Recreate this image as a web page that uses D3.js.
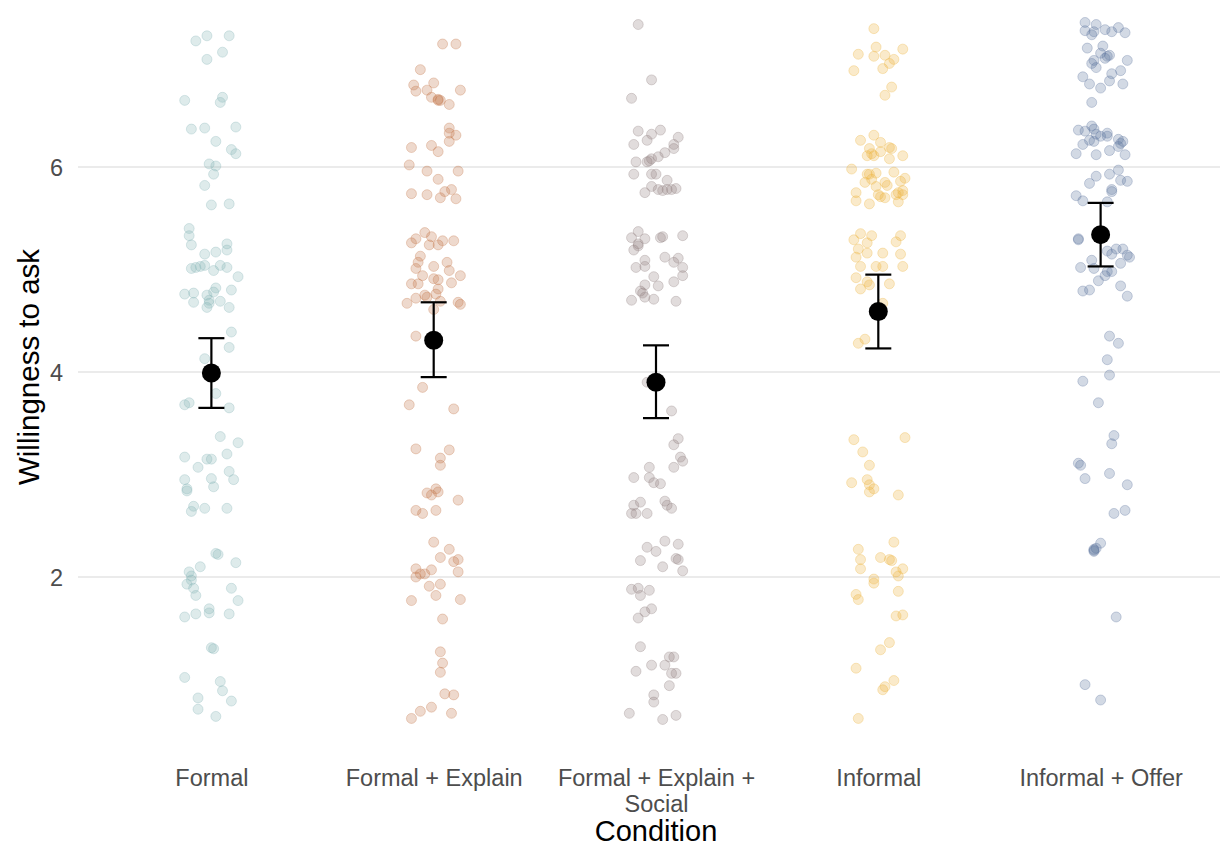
<!DOCTYPE html>
<html>
<head>
<meta charset="utf-8">
<script src="https://cdn.jsdelivr.net/npm/d3@7"></script>
<style>
  html, body { margin: 0; padding: 0; background: #ffffff; }
  svg { display: block; font-family: "Liberation Sans", Arial, Helvetica, sans-serif; }
</style>
</head>
<body>
<svg id="chart" width="1220" height="848"></svg>
<script>
// Conditions shown along the x axis
const categories = ["Formal", "Formal + Explain", "Formal + Explain + Social", "Informal", "Informal + Offer"];
const categoryLabels = [["Formal"], ["Formal + Explain"], ["Formal + Explain +", "Social"], ["Informal"], ["Informal + Offer"]];

// Individual responses per condition: [horizontal jitter (in category units), willingness]
const formal = [[-0.07,7.23],[-0.02,7.28],[0.08,7.28],[-0.02,7.05],[0.05,7.12],[-0.12,6.65],[0.05,6.68],[0.04,6.63],[-0.09,6.37],[-0.03,6.38],[0.11,6.39],[0.02,6.25],[0.09,6.17],[0.11,6.13],[-0.01,6.03],[0.02,6.01],[0.01,5.93],[-0.03,5.82],[0,5.63],[0.08,5.64],[-0.10,5.40],[-0.10,5.33],[-0.09,5.24],[-0.03,5.15],[0.02,5.17],[0.07,5.25],[0.07,5.19],[-0.09,5.01],[-0.07,5.02],[-0.05,5.03],[-0.03,5.04],[0.01,4.99],[0.04,5.04],[0.07,5.02],[0.12,4.93],[-0.12,4.76],[-0.08,4.77],[-0.08,4.68],[-0.02,4.75],[-0.01,4.70],[-0.01,4.67],[-0.02,4.63],[0.02,4.82],[0.01,4.78],[0.04,4.69],[0.09,4.80],[0.08,4.63],[0.09,4.39],[0.08,4.24],[-0.03,4.13],
  [0.02,3.79],[-0.12,3.68],[-0.10,3.70],[0.08,3.65],[0.04,3.37],[0.12,3.31],[-0.12,3.17],[-0.02,3.15],[0,3.15],[0.07,3.20],[-0.06,3.07],[-0.12,2.95],[-0.11,2.86],[-0.11,2.84],[0,2.96],[0.01,2.88],[0.08,3.03],[0.10,2.95],[-0.09,2.64],[-0.08,2.69],[-0.03,2.67],[0.07,2.67],[0.02,2.23],[0.03,2.22],[0.11,2.14],[-0.05,2.10],[-0.10,2.05],[-0.09,2.01],[-0.09,1.97],[-0.11,1.93],[-0.08,1.89],[-0.07,1.82],[0.09,1.89],[0.12,1.77],[-0.12,1.61],[-0.07,1.64],[-0.01,1.69],[-0.01,1.65],[0.08,1.64],[0,1.31],[0.01,1.30],[-0.12,1.02],[0.04,0.98],[0.05,0.89],[-0.06,0.82],[0.09,0.79],[-0.06,0.71],[0.02,0.64]];

const formalExplain = [[0.04,7.20],[0.10,7.20],[-0.06,6.95],[-0.09,6.80],[-0.08,6.74],[0,6.82],[-0.03,6.75],[-0.01,6.68],[0.02,6.66],[0.03,6.65],[0.02,6.65],[0.07,6.61],[0.12,6.75],[0.07,6.38],[0.07,6.33],[0.10,6.31],[0.07,6.25],[-0.10,6.19],[-0.01,6.21],[0.02,6.15],[-0.11,6.02],[-0.03,5.96],[0.11,5.96],[0.02,5.88],[-0.10,5.74],[-0.03,5.73],[0.03,5.70],[0.05,5.76],[0.08,5.78],[0.10,5.69],[-0.10,5.26],[-0.08,5.30],[-0.04,5.36],[-0.01,5.32],[-0.02,5.24],[0.02,5.24],[0.04,5.28],[0.09,5.28],[-0.06,5.13],[-0.07,5.07],[-0.08,5.01],[0,5.03],[0.06,5.07],[0.07,4.99],[0.12,4.94],[-0.10,4.86],[-0.07,4.86],[-0.05,4.94],[0,4.91],[0.02,4.90],[0.02,4.81],[0.08,4.87],[-0.12,4.67],[-0.08,4.72],[-0.04,4.75],[-0.03,4.73],[0.01,4.76],[0,4.61],[0.03,4.69],[0.11,4.68],[0.12,4.66],[-0.08,4.35],
  [-0.05,3.85],[-0.11,3.68],[0.09,3.64],[-0.08,3.25],[0.07,3.24],[0.03,3.16],[0.03,3.09],[-0.03,2.82],[-0.01,2.80],[0.01,2.86],[0.02,2.83],[0.11,2.75],[-0.08,2.65],[-0.05,2.62],[0.01,2.65],[0,2.34],[0.07,2.27],[0.03,2.19],[0.09,2.15],[0.11,2.17],[0.11,2.05],[-0.08,2.08],[-0.08,2.00],[-0.06,2.03],[-0.04,2.03],[-0.01,2.07],[-0.02,1.91],[0.03,1.93],[0.01,1.82],[-0.10,1.77],[0.12,1.78],[0.04,1.59],[0.03,1.27],[0.04,1.16],[0.03,1.07],[0.05,0.86],[0.09,0.85],[-0.01,0.73],[-0.06,0.69],[-0.10,0.62],[0.08,0.67]];

const formalExplainSocial = [[-0.08,7.39],[-0.02,6.85],[-0.11,6.67],[-0.08,6.35],[-0.02,6.32],[0.02,6.36],[0.10,6.29],[-0.10,6.22],[-0.04,6.26],[0.08,6.22],[0.08,6.18],[0.04,6.14],[0.01,6.10],[-0.02,6.08],[-0.03,6.06],[-0.04,6.05],[-0.09,6.05],[-0.10,5.93],[-0.02,5.93],[0,5.93],[0.05,5.87],[-0.02,5.81],[-0.05,5.75],[0.01,5.78],[0.03,5.77],[0.05,5.78],[0.07,5.78],[0.09,5.79],[-0.11,5.31],[-0.08,5.37],[-0.05,5.30],[-0.08,5.25],[-0.08,5.23],[-0.10,5.19],[0.02,5.31],[0.03,5.32],[0.12,5.33],[-0.05,5.09],[-0.09,5.02],[-0.05,5.03],[0.04,5.12],[0.08,5.07],[0.10,5.11],[0.12,5.02],[0.12,4.94],[-0.01,4.93],[0.01,4.84],[-0.05,4.85],[-0.07,4.79],[-0.06,4.77],[-0.05,4.73],[-0.01,4.71],[-0.11,4.70],[0.09,4.69],[0.08,4.88],
  [-0.04,3.90],[0.07,3.62],[0.08,3.29],[0.10,3.35],[0.11,3.17],[0.12,3.13],[0.08,3.07],[-0.03,3.07],[-0.10,2.97],[-0.03,2.97],[-0.01,2.92],[0.02,2.91],[-0.10,2.70],[-0.07,2.73],[-0.11,2.62],[-0.09,2.62],[-0.04,2.62],[0.04,2.74],[0.05,2.70],[0.07,2.67],[-0.04,2.29],[0,2.25],[0.04,2.35],[0.10,2.32],[-0.07,2.16],[0.03,2.10],[0.09,2.18],[0.10,2.17],[0.12,2.06],[-0.11,1.88],[-0.08,1.89],[-0.07,1.82],[-0.03,1.87],[-0.08,1.60],[-0.05,1.66],[-0.02,1.69],[-0.07,1.32],[-0.09,1.08],[-0.02,1.14],[0.04,1.14],[0.06,1.22],[0.08,1.22],[0.07,1.06],[0.09,1.06],[0.06,0.94],[-0.01,0.85],[-0.01,0.78],[-0.12,0.67],[0.03,0.61],[0.09,0.65]];

const informal = [[-0.02,7.35],[-0.09,7.10],[-0.01,7.17],[-0.02,7.08],[0.03,7.09],[0.07,7.05],[0.11,7.15],[0.05,7.01],[0.02,6.96],[-0.11,6.94],[0.06,6.78],[0.03,6.70],[-0.08,6.26],[-0.02,6.31],[0.01,6.24],[-0.04,6.18],[-0.05,6.11],[-0.03,6.13],[-0.02,6.11],[0.01,6.15],[0.05,6.19],[0.06,6.18],[0.05,6.08],[0.11,6.11],[-0.12,5.98],[-0.05,5.93],[-0.04,5.93],[-0.03,5.88],[-0.01,5.94],[-0.06,5.85],[-0.01,5.81],[0.03,5.85],[0.04,5.82],[0.07,5.95],[0.10,5.86],[0.12,5.89],[-0.10,5.75],[-0.10,5.67],[-0.04,5.64],[0,5.73],[0.01,5.71],[0.03,5.70],[0.08,5.73],[0.09,5.66],[0.09,5.75],[0.11,5.77],[0.11,5.73],[-0.11,5.29],[-0.08,5.35],[-0.03,5.33],[-0.05,5.26],[0.08,5.27],[0.10,5.33],[-0.09,5.20],[-0.10,5.12],[-0.05,5.16],[0.02,5.16],[-0.08,5.03],[-0.01,5.03],[0.02,5.03],[0.10,5.15],[0.11,5.03],[-0.10,4.92],[-0.08,4.81],[-0.05,4.88],[-0.04,4.85],[0.05,4.86],[0.02,4.67],[-0.06,4.32],[-0.09,4.28],
  [-0.11,3.34],[0.12,3.36],[-0.07,3.22],[-0.04,3.09],[-0.12,2.92],[-0.05,2.95],[-0.04,2.90],[-0.02,2.86],[-0.04,2.83],[0.09,2.80],[-0.09,2.27],[-0.08,2.17],[-0.08,2.08],[0.01,2.19],[0.07,2.34],[0.05,2.17],[0.06,2.16],[0.08,2.05],[0.11,2.08],[0.09,2.01],[-0.02,1.98],[-0.02,1.94],[0.09,1.86],[-0.10,1.83],[-0.09,1.78],[0.08,1.62],[0.11,1.63],[0.05,1.36],[0.01,1.29],[-0.10,1.11],[0.07,0.99],[0.03,0.93],[0.02,0.90],[-0.09,0.62]];

const informalOffer = [[-0.07,7.41],[-0.02,7.39],[0.02,7.34],[0.05,7.32],[0.08,7.36],[0.11,7.31],[-0.07,7.33],[-0.04,7.29],[-0.03,7.32],[-0.06,7.16],[0.01,7.18],[0,7.11],[0.03,7.08],[0.04,7.09],[0.02,7.06],[-0.03,7.04],[-0.04,7.01],[-0.02,6.97],[0.12,7.04],[-0.08,6.88],[-0.05,6.81],[0,6.77],[0.04,6.84],[0.05,6.91],[0.09,6.94],[0.10,6.81],[-0.04,6.63],[-0.10,6.36],[-0.07,6.35],[-0.04,6.40],[-0.03,6.37],[-0.02,6.32],[0,6.30],[0.03,6.33],[0.03,6.30],[-0.08,6.22],[-0.05,6.26],[-0.03,6.25],[0.08,6.27],[0.09,6.23],[0.10,6.25],[-0.11,6.13],[-0.02,6.12],[0.04,6.16],[0.08,6.20],[0.11,6.12],[-0.02,5.91],[-0.05,5.84],[0.04,5.93],[0.08,5.97],[0.09,5.87],[0.12,5.86],[0.05,5.78],[0.05,5.76],[-0.11,5.72],[-0.08,5.67],[0.03,5.66],[-0.10,5.30],[-0.10,5.29],[0.03,5.18],[0.07,5.20],[0.10,5.20],[0.12,5.14],[0.13,5.12],[0.05,5.15],[0.09,5.06],[-0.04,5.09],[-0.03,5.01],[-0.09,5.02],[0.03,4.98],[0.05,4.98],[0.02,4.94],[-0.01,4.89],[-0.08,4.79],[-0.05,4.80],[0.09,4.84],[0.12,4.74],[0.04,4.35],[0.08,4.28],[0.03,4.12],[0.04,3.97],
  [-0.08,3.91],[-0.01,3.70],[0.06,3.38],[0.05,3.30],[-0.10,3.11],[-0.09,3.09],[-0.07,2.96],[0.04,3.01],[0.12,2.90],[0.06,2.62],[0.11,2.65],[0,2.33],[-0.02,2.28],[-0.03,2.25],[-0.03,2.26],[-0.03,2.27],[0.07,1.61],[-0.07,0.95],[0,0.80]];

// Condition means with 95% confidence limits
const means = [3.99, 4.31, 3.90, 4.59, 5.34];
const ciLower = [3.65, 3.95, 3.55, 4.23, 5.03];
const ciUpper = [4.33, 4.68, 4.26, 4.95, 5.65];

// Y axis ticks
const yTicks = [2, 4, 6];

const colors = ["#86b4b5", "#c27447", "#8f7e7e", "#ebb23a", "#5a719b"];
const pointSets = [formal, formalExplain, formalExplainSocial, informal, informalOffer];

const svg = d3.select("#chart");
const panel = { left: 78, right: 1234 };

const x = d3.scalePoint()
  .domain(categories)
  .range([panel.left, panel.right])
  .padding(0.6);
const step = x.step();

const y = d3.scaleLinear()
  .domain([0, 7.5])
  .range([782, 782 - 7.5 * 102.5]);

// Horizontal grid lines
svg.append("g")
  .selectAll("line")
  .data(yTicks)
  .join("line")
  .attr("x1", panel.left)
  .attr("x2", 1220)
  .attr("y1", d => y(d))
  .attr("y2", d => y(d))
  .attr("stroke", "#ebebeb")
  .attr("stroke-width", 1.8);

// Y axis labels
const yAxis = d3.axisLeft(y).tickValues(yTicks).tickSize(0).tickPadding(15).tickFormat(d3.format("d"));
const yAxisG = svg.append("g")
  .attr("transform", `translate(${panel.left},0)`)
  .call(yAxis);
yAxisG.select(".domain").remove();
yAxisG.selectAll("text")
  .attr("font-size", 23.5)
  .attr("font-family", "Liberation Sans, Arial, sans-serif")
  .attr("fill", "#4d4d4d")
  .attr("dy", "0.35em");

// X axis labels (multi-line where needed)
const xAxis = d3.axisBottom(x).tickSize(0).tickFormat(() => "");
const xAxisG = svg.append("g").call(xAxis);
xAxisG.select(".domain").remove();
xAxisG.selectAll(".tick").each(function (d, i) {
  const t = d3.select(this).append("text")
    .attr("y", 786)
    .attr("text-anchor", "middle")
    .attr("font-size", 23.5)
    .attr("font-family", "Liberation Sans, Arial, sans-serif")
    .attr("fill", "#4d4d4d");
  categoryLabels[i].forEach((line, k) => {
    t.append("tspan").attr("x", 0).attr("y", 786 + k * 26).text(line);
  });
});

// Jittered responses
pointSets.forEach((pts, i) => {
  const cx0 = x(categories[i]);
  svg.append("g")
    .selectAll("circle")
    .data(pts)
    .join("circle")
    .attr("cx", d => cx0 + d[0] * step)
    .attr("cy", d => y(d[1]))
    .attr("r", 5)
    .attr("fill", colors[i])
    .attr("fill-opacity", 0.27)
    .attr("stroke", colors[i])
    .attr("stroke-opacity", 0.3)
    .attr("stroke-width", 1);
});

// Error bars for condition means
const capHalf = 13;
const eb = svg.append("g");
categories.forEach((c, i) => {
  const cx = x(c);
  eb.append("line")
    .attr("x1", cx).attr("x2", cx)
    .attr("y1", y(ciLower[i])).attr("y2", y(ciUpper[i]))
    .attr("stroke", "#000").attr("stroke-width", 2.2);
  [ciLower[i], ciUpper[i]].forEach(v => {
    eb.append("line")
      .attr("x1", cx - capHalf).attr("x2", cx + capHalf)
      .attr("y1", y(v)).attr("y2", y(v))
      .attr("stroke", "#000").attr("stroke-width", 2.2);
  });
});

// Mean points
svg.append("g")
  .selectAll("circle")
  .data(means)
  .join("circle")
  .attr("cx", (d, i) => x(categories[i]))
  .attr("cy", d => y(d))
  .attr("r", 9.5)
  .attr("fill", "#000");

// Axis titles
svg.append("text")
  .attr("x", 656)
  .attr("y", 841)
  .attr("text-anchor", "middle")
  .attr("font-size", 29)
  .attr("font-family", "Liberation Sans, Arial, sans-serif")
  .attr("fill", "#000")
  .text("Condition");

svg.append("text")
  .attr("transform", "translate(39,367) rotate(-90)")
  .attr("text-anchor", "middle")
  .attr("font-size", 29.5)
  .attr("font-family", "Liberation Sans, Arial, sans-serif")
  .attr("fill", "#000")
  .text("Willingness to ask");
</script>
</body>
</html>
